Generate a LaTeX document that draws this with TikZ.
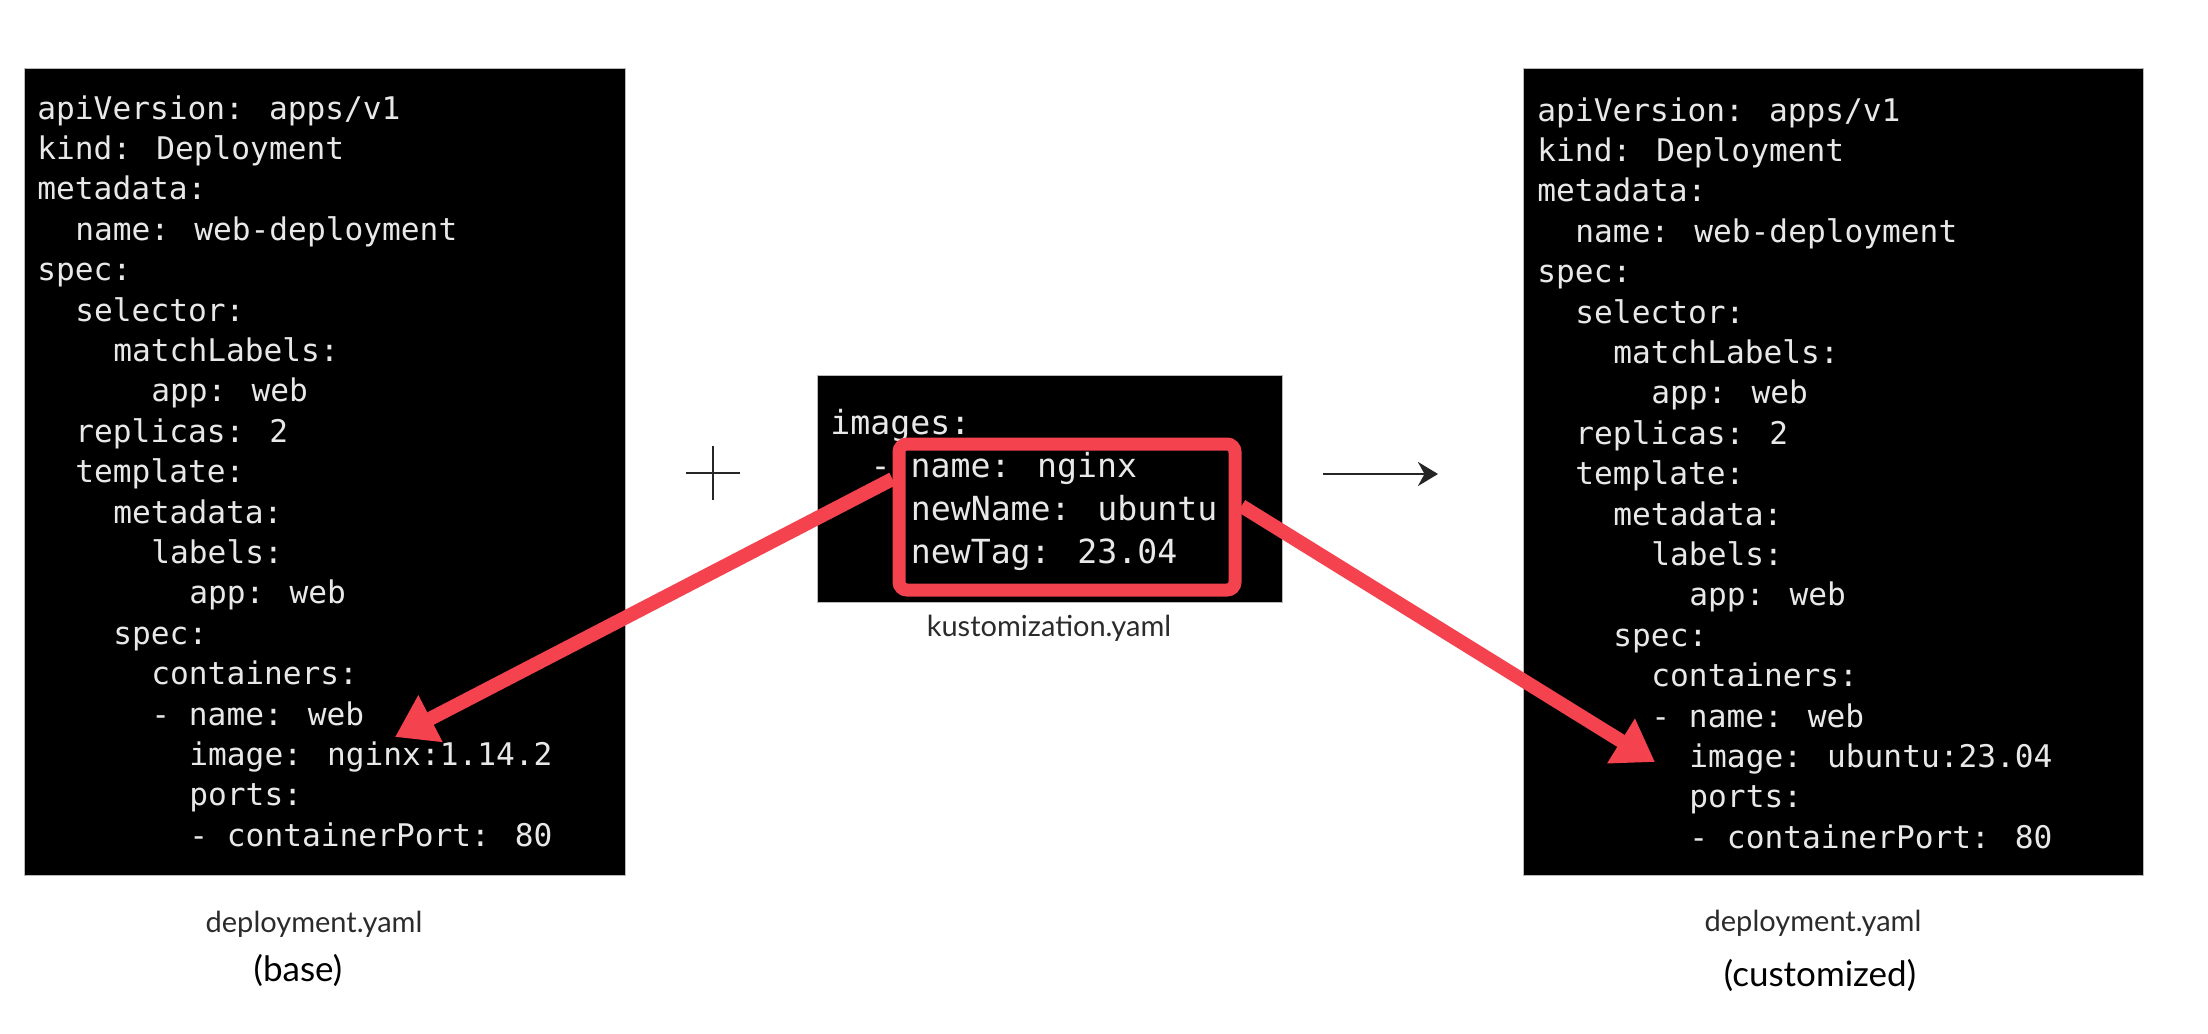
\documentclass[tikz,border=0pt]{standalone}
\usepackage{fontspec}
\setmainfont{Lato}
\newfontfamily\codefont{DejaVu Sans Mono}
\usetikzlibrary{arrows.meta,calc}
\definecolor{hlred}{HTML}{F4434F}
\definecolor{codefg}{HTML}{E8E8E8}
\definecolor{labgray}{HTML}{2B2B2B}
\newcommand\yamlline[5]{\node[#1] (#2) at ({\ox+#3*\cw},{\oy+(#4-1)*\lh}) {#5};}
\begin{document}
\begin{tikzpicture}[x=0.5pt,y=-0.5pt,
  panel/.style={fill=black,draw=gray!55,line width=0.6pt,inner sep=0pt,anchor=north west},
  code/.style={text=codefg,font=\codefont\fontsize{15.6pt}{20pt}\selectfont,inner sep=0pt,anchor=base west},
  kcode/.style={code,font=\codefont\fontsize{16.6pt}{21pt}\selectfont},
  redbox/.style={draw=hlred,line width=6.5pt,rounded corners=4pt,inner sep=0pt},
  redarrow/.style={draw=hlred,line width=7pt,-{Triangle[length=20pt,width=25pt]}},
  filelab/.style={text=labgray,font=\fontsize{14.5pt}{16pt}\selectfont,inner sep=0pt},
  rolelab/.style={text=black,font=\fontsize{17.5pt}{20pt}\selectfont,inner sep=0pt},
  opline/.style={draw=black!85,line width=1.4pt}
]
\useasboundingbox (0,0) rectangle (2208,1034);

% panels
\node[panel,minimum width=300.5pt,minimum height=403.5pt] (basep) at (24,68) {};
\node[panel,minimum width=232.5pt,minimum height=113.5pt] (kustp) at (817,375) {};
\node[panel,minimum width=310pt,minimum height=403.5pt] (custp) at (1523,68) {};

% base deployment.yaml
\def\ox{37}\def\oy{119}\def\cw{19}\def\lh{40.4}
\yamlline{code}{b1}{0}{1}{apiVersion: apps/v1}
\yamlline{code}{b2}{0}{2}{kind: Deployment}
\yamlline{code}{b3}{0}{3}{metadata:}
\yamlline{code}{b4}{2}{4}{name: web-deployment}
\yamlline{code}{b5}{0}{5}{spec:}
\yamlline{code}{b6}{2}{6}{selector:}
\yamlline{code}{b7}{4}{7}{matchLabels:}
\yamlline{code}{b8}{6}{8}{app: web}
\yamlline{code}{b9}{2}{9}{replicas: 2}
\yamlline{code}{b10}{2}{10}{template:}
\yamlline{code}{b11}{4}{11}{metadata:}
\yamlline{code}{b12}{6}{12}{labels:}
\yamlline{code}{b13}{8}{13}{app: web}
\yamlline{code}{b14}{4}{14}{spec:}
\yamlline{code}{b15}{6}{15}{containers:}
\yamlline{code}{b16}{6}{16}{- name: web}
\yamlline{code}{b17}{8}{17}{image: nginx:1.14.2}
\yamlline{code}{b18}{8}{18}{ports:}
\yamlline{code}{b19}{8}{19}{- containerPort: 80}

% customized deployment.yaml
\def\ox{1537}\def\oy{121}
\yamlline{code}{c1}{0}{1}{apiVersion: apps/v1}
\yamlline{code}{c2}{0}{2}{kind: Deployment}
\yamlline{code}{c3}{0}{3}{metadata:}
\yamlline{code}{c4}{2}{4}{name: web-deployment}
\yamlline{code}{c5}{0}{5}{spec:}
\yamlline{code}{c6}{2}{6}{selector:}
\yamlline{code}{c7}{4}{7}{matchLabels:}
\yamlline{code}{c8}{6}{8}{app: web}
\yamlline{code}{c9}{2}{9}{replicas: 2}
\yamlline{code}{c10}{2}{10}{template:}
\yamlline{code}{c11}{4}{11}{metadata:}
\yamlline{code}{c12}{6}{12}{labels:}
\yamlline{code}{c13}{8}{13}{app: web}
\yamlline{code}{c14}{4}{14}{spec:}
\yamlline{code}{c15}{6}{15}{containers:}
\yamlline{code}{c16}{6}{16}{- name: web}
\yamlline{code}{c17}{8}{17}{image: ubuntu:23.04}
\yamlline{code}{c18}{8}{18}{ports:}
\yamlline{code}{c19}{8}{19}{- containerPort: 80}

% kustomization.yaml
\def\ox{830}\def\oy{434}\def\cw{20.1}\def\lh{43}
\yamlline{kcode}{k1}{0}{1}{images:}
\yamlline{kcode}{k2}{2}{2}{- name: nginx}
\yamlline{kcode}{k3}{4}{3}{newName: ubuntu}
\yamlline{kcode}{k4}{4}{4}{newTag: 23.04}

% highlight box
\node[redbox,minimum width=168pt,minimum height=73pt] (sel) at (1067,517) {};

% operators
\coordinate (plusC) at (713,473);
\draw[opline] ($(plusC)+(0,-27)$) -- ($(plusC)+(0,27)$);
\draw[opline] ($(plusC)+(-27,0)$) -- ($(plusC)+(27,0)$);
\coordinate (opA) at (1323,474);
\coordinate (opB) at (1438,474);
\draw[opline,-{Stealth[length=10pt,width=12pt]}] (opA) -- (opB);

% red arrows
\coordinate (tipL) at (395,737);
\coordinate (tipR) at (1655,762);
\draw[redarrow] ($(sel.west)+(0,-38)$) -- (tipL);
\draw[redarrow] ($(sel.east)+(0,-11)$) -- (tipR);

% labels
\node[filelab] (kustlab) at (1049,628) {kustomization.yaml};
\node[filelab] (baselab) at (314,924) {deployment.yaml};
\node[rolelab] (baserole) at (298,970) {(base)};
\node[filelab] (custlab) at (1813,923) {deployment.yaml};
\node[rolelab] (custrole) at (1820,975) {(customized)};
\end{tikzpicture}
\end{document}
